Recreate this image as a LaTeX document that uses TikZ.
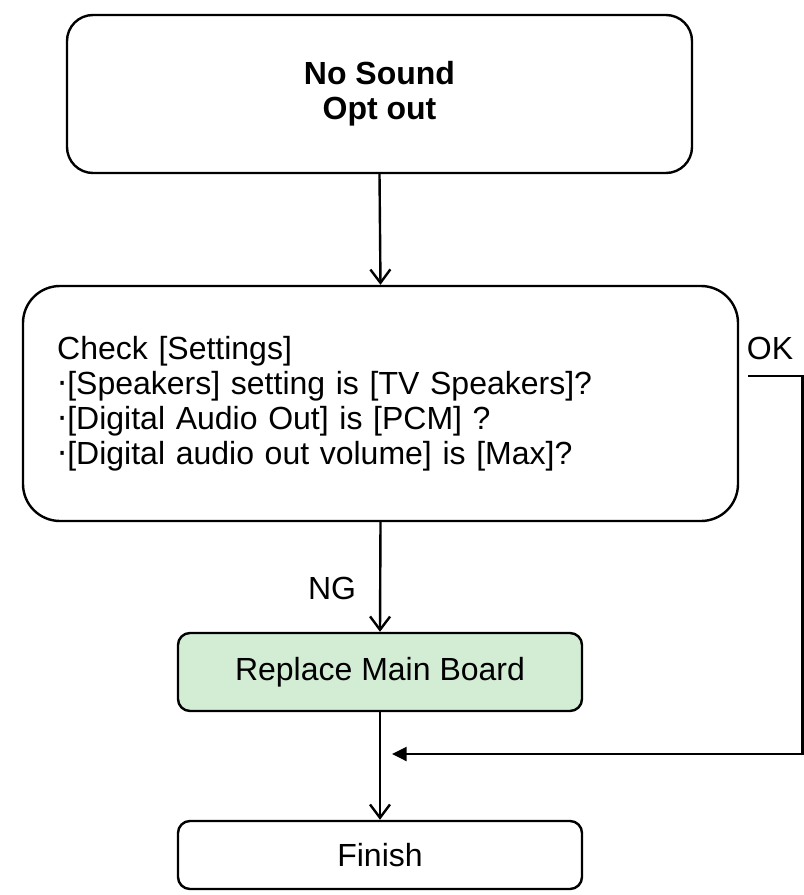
\documentclass[tikz,border=0pt]{standalone}
\usepackage{fontspec}
\setmainfont{Liberation Sans}
\newfontfamily\dejavu{DejaVu Sans}
\usetikzlibrary{arrows.meta}
\definecolor{boardgreen}{RGB}{211,237,213}
\newcommand\ptdot{{\dejavu ·}}

\begin{document}
\begin{tikzpicture}[x=0.75pt,y=-0.75pt,
  % boxes: big rounded frames for start/check, act = small step boxes
  frame/.style={draw, line width=1.8pt, align=center, inner sep=0pt,
                font=\fontsize{24}{26.25}\selectfont},
  act/.style={frame, rounded corners=9pt, minimum width=303pt},
  % connectors: open barb down the main flow, filled tip on the OK return
  flow/.style={-{Straight Barb[length=10pt, width=15pt, line width=1.8pt]}, line width=1.8pt},
  back/.style={-{Triangle[length=11pt, width=10.5pt]}, line width=1.8pt},
  lbl/.style={font=\fontsize{24}{26.25}\selectfont, inner sep=0pt},
  ]
  \useasboundingbox[fill=white] (0,0) rectangle (803,895);
  % ---- boxes ----------------------------------------------------------------
  \node[frame, rounded corners=19.5pt, minimum width=468.75pt, minimum height=118.5pt,
        font=\fontsize{24}{26.25}\selectfont\bfseries] (start) at (379.5,94) {No Sound\\Opt out};
  \node[frame, rounded corners=27.75pt, minimum width=536.25pt, minimum height=176.25pt,
        align=left, text width=485pt, inner xsep=25.5pt] (check) at (380.5,403.5)
    {Check [Settings]\\
     \ptdot[Speakers] setting is [TV Speakers]?\\
     \ptdot[Digital Audio Out] is [PCM] ?\\
     \ptdot[Digital audio out volume] is [Max]?};
  \node[act, fill=boardgreen, minimum height=58.5pt] (replace) at (380,672) {Replace Main Board};
  \node[act, minimum height=51pt] (finish) at (380,855) {Finish};
  % ---- labels -----------------------------------------------------------------
  \node[lbl] (ng) at (332,588) {NG};
  \node[lbl] (ok) at (770,348) {OK};
  % ---- main flow ----------------------------------------------------------------
  \draw[flow] (start.south) -- (check.north);
  \draw[flow] (check.south) -- (replace.north);
  \draw[flow] (replace.south) -- (finish.north);
  % ---- OK return, runs down the right edge --------------------------------------
  \coordinate (okin) at (748,376);
  \coordinate (rim)  at (802.5,376);
  \coordinate (join) at (392,754);
  \draw[back] (okin) -- (rim) |- (join);
\end{tikzpicture}
\end{document}
